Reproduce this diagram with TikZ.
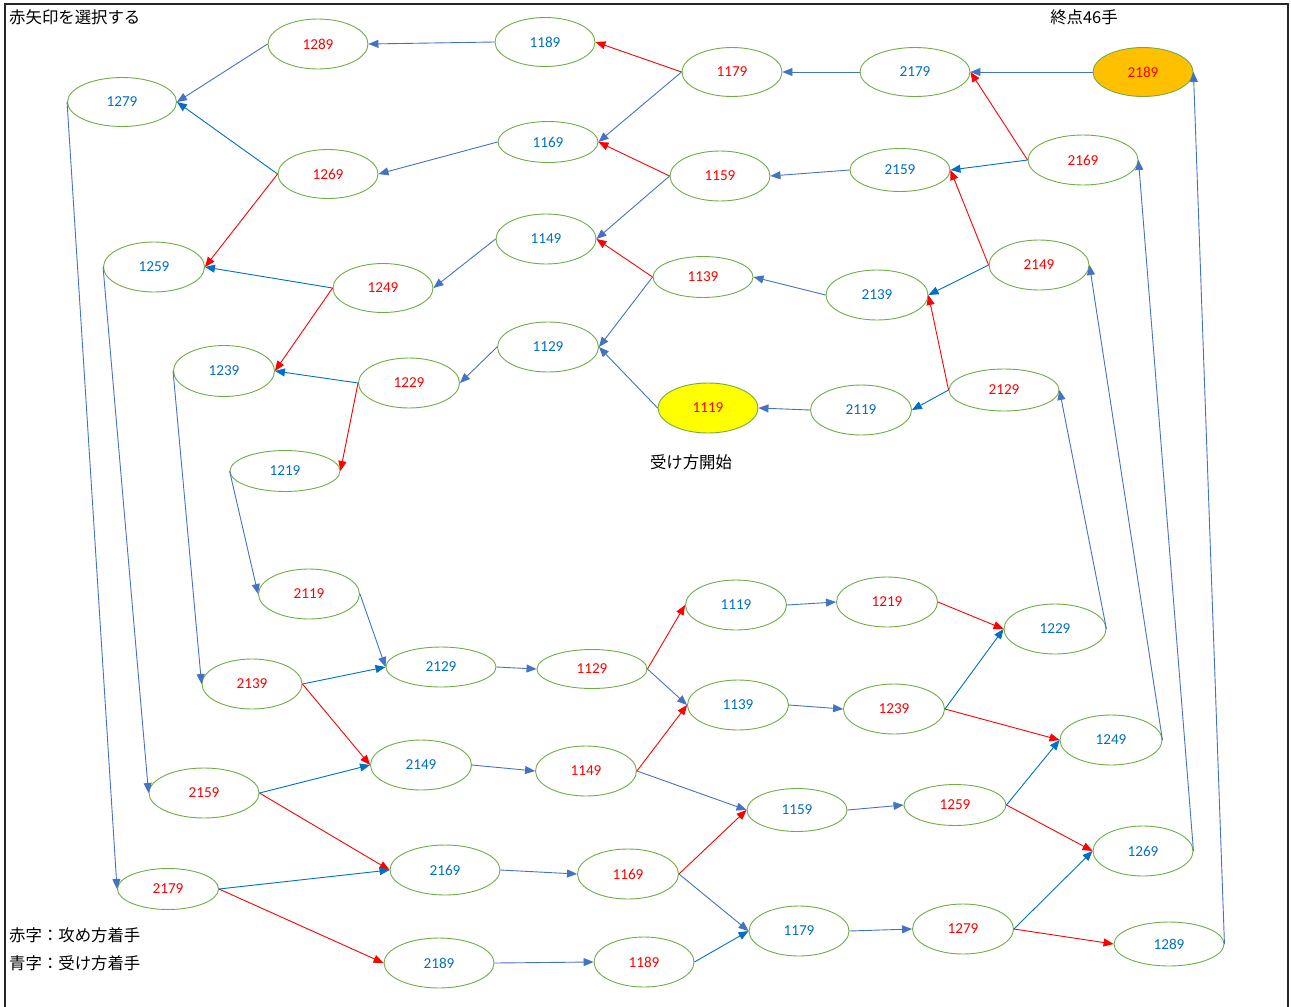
\documentclass[tikz,border=0pt]{standalone}
\usepackage{fontspec}
\setmainfont{Carlito}
\newfontfamily\cjk{Noto Sans CJK JP}
\usetikzlibrary{shapes.geometric,arrows.meta}
\definecolor{ellgreen}{HTML}{70AD47}
\definecolor{txtblue}{HTML}{0070C0}
\definecolor{lineblue}{HTML}{4472C4}
\definecolor{darkblue}{HTML}{0070C0}
\definecolor{orangefill}{HTML}{FFC000}
\definecolor{yellowfill}{HTML}{FFFF00}
\tikzset{
  st/.style={ellipse, draw=ellgreen, line width=0.9pt, inner sep=0pt,
    minimum width=100pt, minimum height=50pt, font=\fontsize{15.2}{17}\selectfont},
  rt/.style={st, text=red},
  bt/.style={st, text=txtblue},
  ba/.style={draw=lineblue, line width=0.9pt, -{Triangle[length=10pt,width=8pt]}},
  da/.style={draw=darkblue, line width=0.9pt, -{Triangle[length=10pt,width=8pt]}},
  ra/.style={draw=red, line width=0.9pt, -{Triangle[length=10pt,width=8pt]}},
  lbl/.style={font=\cjk\fontsize{16.4}{19}\selectfont, inner sep=0pt}
}
\begin{document}
\begin{tikzpicture}[x=1pt,y=-1pt]
\useasboundingbox (0,0) rectangle (1291,1007);
\draw[line width=1.4pt, draw=black!85] (5,4) rectangle (1288,1030);

% ---------- labels
\node[lbl, anchor=west] (title) at (9,17) {赤矢印を選択する};
\node[lbl] (goal) at (1084,17) {終点46手};
\node[lbl] (start) at (691,462) {受け方開始};
\node[lbl, anchor=west] (leg1) at (9,935) {赤字：攻め方着手};
\node[lbl, anchor=west] (leg2) at (9,963) {青字：受け方着手};

% ---------- top section
\node[rt] (t1289) at (318,44) {1289};
\node[bt, minimum height=49pt] (t1189) at (545,42) {1189};
\node[rt, minimum height=49pt] (t1179) at (732,72) {1179};
\node[bt, minimum width=110pt, minimum height=49pt] (t2179) at (915,72) {2179};
\node[rt, fill=orangefill, minimum height=49pt] (t2189) at (1143,72) {2189};
\node[bt, minimum width=109pt, minimum height=49pt] (t1279) at (122,102) {1279};
\node[rt, minimum height=49pt] (t1269) at (328,174) {1269};
\node[bt, minimum height=41pt] (t1169) at (548,142) {1169};
\node[rt] (t1159) at (720,176) {1159};
\node[bt, minimum height=43pt] (t2159) at (900,170) {2159};
\node[rt, minimum width=110pt] (t2169) at (1083,160) {2169};
\node[bt, minimum width=101pt] (t1259) at (154,267) {1259};
\node[rt, minimum height=49pt] (t1249) at (383,288) {1249};
\node[bt] (t1149) at (546,239) {1149};
\node[rt, minimum height=41pt] (t1139) at (703,277) {1139};
\node[bt, minimum width=102pt] (t2139) at (877,295) {2139};
\node[rt] (t2149) at (1039,265) {2149};
\node[bt, minimum width=101pt, minimum height=51pt] (t1239) at (224,371) {1239};
\node[rt, minimum width=101pt] (t1229) at (409,383) {1229};
\node[bt, minimum width=101pt] (t1129) at (548,347) {1129};
\node[rt, fill=yellowfill] (t1119) at (708,408) {1119};
\node[bt, minimum width=101pt] (t2119) at (861,410) {2119};
\node[rt, minimum width=110pt, minimum height=42pt] (t2129) at (1004,390) {2129};
\node[bt, minimum width=110pt, minimum height=41pt] (t1219) at (285,471) {1219};

% ---------- bottom section
\node[rt, minimum width=101pt] (b2119) at (309,594) {2119};
\node[bt, minimum width=110pt, minimum height=40pt] (b2129) at (441,667) {2129};
\node[rt, minimum width=110pt, minimum height=39pt] (b1129) at (592,669) {1129};
\node[bt, minimum width=101pt] (b1119) at (736,605) {1119};
\node[rt, minimum width=101pt] (b1219) at (887,602) {1219};
\node[bt, minimum width=102pt] (b1229) at (1055,629) {1229};
\node[rt] (b2139) at (252,684) {2139};
\node[bt, minimum width=101pt] (b1139) at (738,705) {1139};
\node[rt, minimum width=101pt] (b1239) at (894,709) {1239};
\node[bt, minimum width=102pt] (b1249) at (1111,740) {1249};
\node[bt, minimum width=101pt] (b2149) at (421,765) {2149};
\node[rt, minimum width=101pt] (b1149) at (586,771) {1149};
\node[bt, minimum height=43pt] (b1159) at (797,810) {1159};
\node[rt, minimum width=102pt, minimum height=41pt] (b1259) at (955,805) {1259};
\node[bt] (b1269) at (1143,851) {1269};
\node[rt, minimum width=110pt] (b2159) at (204,793) {2159};
\node[bt, minimum width=110pt] (b2169) at (445,870) {2169};
\node[rt, minimum width=101pt] (b1169) at (628,874) {1169};
\node[bt] (b1179) at (799,931) {1179};
\node[rt, minimum width=101pt] (b1279) at (963,929) {1279};
\node[bt, minimum width=110pt, minimum height=44pt] (b1289) at (1169,944) {1289};
\node[rt, minimum width=101pt, minimum height=41pt] (b2179) at (168,889) {2179};
\node[bt, minimum width=110pt] (b2189) at (439,963) {2189};
\node[rt] (b1189) at (644,962) {1189};

% ---------- top connectors
\draw[ba] (t1189.west) -- (t1289.east);
\draw[ba] (t1289.west) -- (t1279.east);
\draw[da] (t1269.west) -- (t1279.east);
\draw[ra] (t1269.west) -- (t1259.east);
\draw[ba] (t1169.west) -- (t1269.east);
\draw[ra] (t1179.west) -- (t1189.east);
\draw[ba] (t1179.west) -- (t1169.east);
\draw[ba] (t2179.west) -- (t1179.east);
\draw[ba] (t2189.west) -- (t2179.east);
\draw[ra] (t2169.west) -- (t2179.east);
\draw[da] (t2169.west) -- (t2159.east);
\draw[ba] (t2159.west) -- (t1159.east);
\draw[ra] (t1159.west) -- (t1169.east);
\draw[ba] (t1159.west) -- (t1149.east);
\draw[ba] (t1149.west) -- (t1249.east);
\draw[da] (t1249.west) -- (t1259.east);
\draw[ra] (t1249.west) -- (t1239.east);
\draw[ra] (t1139.west) -- (t1149.east);
\draw[ba] (t1139.west) -- (t1129.east);
\draw[ba] (t2139.west) -- (t1139.east);
\draw[da] (t2149.west) -- (t2139.east);
\draw[ra] (t2149.west) -- (t2159.east);
\draw[ra] (t2129.west) -- (t2139.east);
\draw[da] (t2129.west) -- (t2119.east);
\draw[ba] (t2119.west) -- (t1119.east);
\draw[ba] (t1119.west) -- (t1129.east);
\draw[ba] (t1129.west) -- (t1229.east);
\draw[da] (t1229.west) -- (t1239.east);
\draw[ra] (t1229.west) -- (t1219.east);

% ---------- long connectors
\draw[ba] (t1219.west) -- (b2119.west);
\draw[ba] (t1239.west) -- (b2139.west);
\draw[ba] (t1259.west) -- (b2159.west);
\draw[ba] (t1279.west) -- (b2179.west);
\draw[ba] (b1229.east) -- (t2129.east);
\draw[ba] (b1249.east) -- (t2149.east);
\draw[ba] (b1269.east) -- (t2169.east);
\draw[ba] (b1289.east) -- (t2189.east);

% ---------- bottom connectors
\draw[ba] (b2119.east) -- (b2129.west);
\draw[da] (b2139.east) -- (b2129.west);
\draw[ra] (b2139.east) -- (b2149.west);
\draw[ba] (b2129.east) -- (b1129.west);
\draw[ra] (b1129.east) -- (b1119.west);
\draw[ba] (b1129.east) -- (b1139.west);
\draw[ba] (b1119.east) -- (b1219.west);
\draw[ra] (b1219.east) -- (b1229.west);
\draw[ba] (b1139.east) -- (b1239.west);
\draw[da] (b1239.east) -- (b1229.west);
\draw[ra] (b1239.east) -- (b1249.west);
\draw[da] (b2159.east) -- (b2149.west);
\draw[ra] (b2159.east) -- (b2169.west);
\draw[ba] (b2149.east) -- (b1149.west);
\draw[ra] (b1149.east) -- (b1139.west);
\draw[ba] (b1149.east) -- (b1159.west);
\draw[ba] (b1159.east) -- (b1259.west);
\draw[da] (b1259.east) -- (b1249.west);
\draw[ra] (b1259.east) -- (b1269.west);
\draw[da] (b2179.east) -- (b2169.west);
\draw[ra] (b2179.east) -- (b2189.west);
\draw[ba] (b2169.east) -- (b1169.west);
\draw[ra] (b1169.east) -- (b1159.west);
\draw[ba] (b1169.east) -- (b1179.west);
\draw[da] (b1189.east) -- (b1179.west);
\draw[ba] (b2189.east) -- (b1189.west);
\draw[ba] (b1179.east) -- (b1279.west);
\draw[da] (b1279.east) -- (b1269.west);
\draw[ra] (b1279.east) -- (b1289.west);
\end{tikzpicture}
\end{document}
